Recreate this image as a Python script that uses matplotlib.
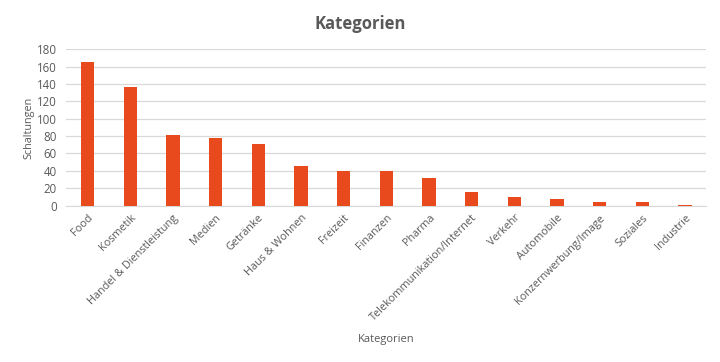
import matplotlib.pyplot as plt

# Data
categories = ["Food", "Kosmetik", "Handel & Dienstleistung", "Medien", "Getränke",
              "Haus & Wohnen", "Freizeit", "Finanzen", "Pharma",
              "Telekommunikation/Internet", "Verkehr", "Automobile",
              "Konzernwerbung/Image", "Soziales", "Industrie"]
schaltungen = [165, 136, 81, 78, 71, 46, 40, 40, 32, 16, 10, 8, 4, 4, 1]
yticks = list(range(0, 181, 20))

plt.rcParams["font.family"] = ["Open Sans", "DejaVu Sans"]
text_color = "#595959"

fig = plt.figure(figsize=(7.2, 3.62), dpi=100)
ax = fig.add_axes([0.092, 0.432, 0.889, 0.432])

x = range(len(categories))
ax.bar(x, schaltungen, width=0.31, color="#E84A1E", zorder=3)

ax.set_ylim(0, 180)
ax.set_xlim(-0.5, len(categories) - 0.5)
ax.set_yticks(yticks)
ax.set_xticks(list(x))
ax.set_xticklabels(categories, rotation=45, ha="right", rotation_mode="anchor",
                   fontsize=7.8, color=text_color)
ax.tick_params(axis="y", labelsize=8.3, colors=text_color, length=0, pad=7)
ax.tick_params(axis="x", length=0, pad=5)
ax.grid(axis="y", color="#D9D9D9", linewidth=0.9, zorder=0)
for side in ["top", "right", "left"]:
    ax.spines[side].set_visible(False)
ax.spines["bottom"].set_color("#D9D9D9")

ax.set_ylabel("Schaltungen", fontsize=7.8, color=text_color, labelpad=1.5)
fig.text(0.536, 0.055, "Kategorien", ha="center", fontsize=8, color=text_color)
fig.text(0.5, 0.935, "Kategorien", ha="center", va="center",
         fontsize=12, fontweight="bold", color=text_color)

fig.savefig("out.png", dpi=100, facecolor="white")
